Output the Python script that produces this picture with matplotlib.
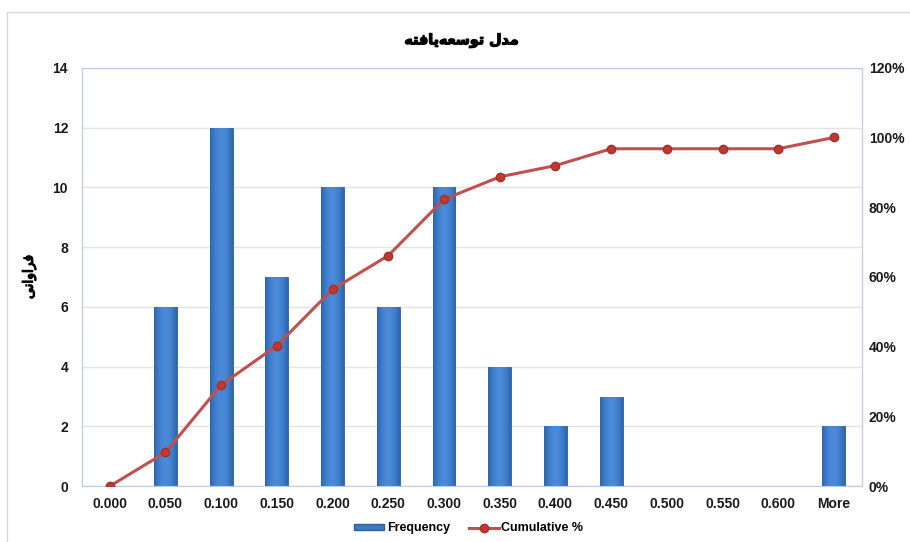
import matplotlib.pyplot as plt
import matplotlib.patheffects as pe
import numpy as np
from matplotlib.patches import Rectangle
from matplotlib.lines import Line2D
from matplotlib.ticker import PercentFormatter
from matplotlib.colors import LinearSegmentedColormap

bins = ['0.000', '0.050', '0.100', '0.150', '0.200', '0.250', '0.300',
        '0.350', '0.400', '0.450', '0.500', '0.550', '0.600', 'More']
frequency = [0, 6, 12, 7, 10, 6, 10, 4, 2, 3, 0, 0, 0, 2]
cumulative = [0.00, 9.68, 29.03, 40.32, 56.45, 66.13, 82.26,
              88.71, 91.94, 96.77, 96.77, 96.77, 96.77, 100.00]

# Persian labels written as presentation forms in display order
title_fa = '\uFEEA\uFE98\uFED3\uFE8E\uFBFE\uFEEA\uFECC\uFEB3\uFEEE\uFE97 \uFEDD\uFEAA\uFEE3'
ylabel_fa = '\uFBFD\uFEE7\uFE8D\uFEED\uFE8D\uFEAE\uFED3'

plt.rcParams['font.family'] = ['Liberation Sans', 'DejaVu Sans']
plt.rcParams['font.weight'] = 'bold'

fig = plt.figure(figsize=(9.1, 5.42), dpi=100)
ax = fig.add_axes([0.090, 0.103, 0.857, 0.772])

x = np.arange(len(bins))
width = 0.41
bars = ax.bar(x, frequency, width, color='#3d79c6', edgecolor='#2c5f9e',
              linewidth=0.6, zorder=3)

# horizontal shading on each bar
grad = np.linspace(0, 1, 64)
shade = 1 - (2 * grad - 1) ** 2
bluemap = LinearSegmentedColormap.from_list('b', ['#2d64ad', '#4a8ad8'])
for b in bars:
    if b.get_height() == 0:
        continue
    im = ax.imshow(np.outer(np.ones(2), shade), cmap=bluemap, aspect='auto', zorder=3.5,
                   extent=[b.get_x(), b.get_x() + b.get_width(), 0, b.get_height()])
    im.set_clip_path(b)

ax.set_xlim(-0.5, len(bins) - 0.5)
ax.set_ylim(0, 14)
ax.set_yticks(range(0, 15, 2))
ax.set_xticks(x)
ax.set_xticklabels(bins)
ax.grid(axis='y', color='#e3e3e3', linewidth=1, zorder=0)
for s in ax.spines.values():
    s.set_color('#b9cde5')
ax.tick_params(axis='y', length=0, labelsize=10, pad=10)
ax.tick_params(axis='x', length=0, labelsize=10, pad=8)

bold_fx = [pe.withStroke(linewidth=0.9, foreground='black')]
ax.set_ylabel(ylabel_fa, family=['DejaVu Sans'], fontsize=10, path_effects=bold_fx)
ax.yaxis.set_label_coords(-0.059, 0.5)

ax2 = ax.twinx()
ax2.plot(x, cumulative, color='#c0504d', linewidth=2.2, marker='o',
         markersize=6, markerfacecolor='#c0392b', markeredgecolor='#a33030', zorder=4)
ax2.set_ylim(0, 120)
ax2.set_yticks(range(0, 121, 20))
ax2.yaxis.set_major_formatter(PercentFormatter(decimals=0))
ax2.tick_params(axis='y', length=0, labelsize=10, pad=5)
for s in ax2.spines.values():
    s.set_color('#b9cde5')

for lab in ax.get_xticklabels() + ax.get_yticklabels() + ax2.get_yticklabels():
    lab.set_fontweight('bold')
    lab.set_color('#1a1a1a')

fig.text(0.507, 0.925, title_fa, ha='center', va='center', fontsize=10.3,
         family=['DejaVu Sans'], path_effects=bold_fx)

handles = [Rectangle((0, 0), 1, 1, facecolor='#3d79c6', edgecolor='#2c5f9e'),
           Line2D([], [], color='#c0504d', linewidth=2.2, marker='o',
                  markersize=6, markerfacecolor='#c0392b', markeredgecolor='#a33030')]
fig.legend(handles, ['Frequency', 'Cumulative %'], loc='center',
           bbox_to_anchor=(0.515, 0.025), ncol=2, frameon=False,
           prop={'size': 9, 'weight': 'bold'},
           handlelength=2.4, handleheight=0.4, columnspacing=1.5, handletextpad=0.2)

# outer chart border
fig.add_artist(Line2D([0.008, 0.008], [0.0, 0.978], color='#d9d9d9', linewidth=1))
fig.add_artist(Line2D([0.008, 1.0], [0.978, 0.978], color='#d9d9d9', linewidth=1))

fig.savefig('out.png', dpi=100)
